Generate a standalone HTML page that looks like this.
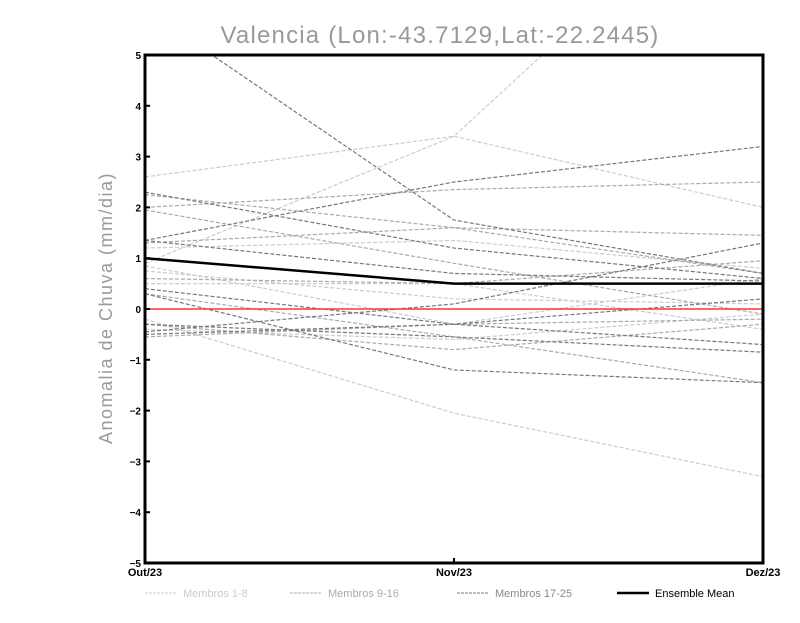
<!DOCTYPE html>
<html><head><meta charset="utf-8"><style>
body{margin:0;background:#fff;}
svg text{font-family:"Liberation Sans",sans-serif;}
</style></head><body>
<svg id="chart" width="800" height="618" xmlns="http://www.w3.org/2000/svg">
<defs><clipPath id="pc"><rect x="145" y="55" width="618" height="508"/></clipPath></defs>
<text x="440" y="43" text-anchor="middle" font-size="24" letter-spacing="1.2" fill="#999">Valencia (Lon:-43.7129,Lat:-22.2445)</text>
<text transform="translate(112,308) rotate(-90)" text-anchor="middle" font-size="18" letter-spacing="1.5" fill="#999">Anomalia de Chuva (mm/dia)</text>
<g id="series" clip-path="url(#pc)"></g>
<g id="axes"></g>
<g id="legend" font-size="11">
<line x1="145" y1="593" x2="177" y2="593" stroke="#ccc" stroke-dasharray="3,1"/>
<text x="183" y="597" fill="#ccc">Membros 1-8</text>
<line x1="290" y1="593" x2="322" y2="593" stroke="#aaa" stroke-dasharray="3,1"/>
<text x="328" y="597" fill="#aaa">Membros 9-16</text>
<line x1="457" y1="593" x2="489" y2="593" stroke="#777" stroke-dasharray="3,1"/>
<text x="495" y="597" fill="#888">Membros 17-25</text>
<line x1="617" y1="593" x2="649" y2="593" stroke="#000" stroke-width="2.5"/>
<text x="655" y="597" fill="#000">Ensemble Mean</text>
</g>
</svg>
<script>
const categories = ["Out/23","Nov/23","Dez/23"];
const yTicks = [-5,-4,-3,-2,-1,0,1,2,3,4,5];
const light = [[2.6,3.4,2.0],[0.9,3.4,9.0],[0.85,-0.3,0.6],[1.2,1.35,0.8],[-0.2,-2.05,-3.3],[0.75,0.2,0.1],[0.5,0.5,-0.4],[-0.4,-0.6,-0.1]];
const medium = [[2.0,2.35,2.5],[2.25,1.6,0.7],[1.95,0.9,-0.1],[1.3,1.6,1.45],[0.6,0.5,0.95],[0.3,-0.55,-1.45],[-0.3,-0.8,-0.3],[-0.55,-0.3,-0.2]];
const dark = [[5.9,1.75,0.7],[2.3,1.2,0.6],[1.35,2.5,3.2],[1.35,0.7,0.55],[0.3,-1.2,-1.45],[0.4,-0.3,-0.7],[-0.45,0.1,1.3],[-0.3,-0.55,-0.85],[-0.5,-0.3,0.2]];
const meanVals = [1.0,0.5,0.5];

const NS="http://www.w3.org/2000/svg";
const X0=145,X1=763,Y0=55,Y1=563;
function xs(i){return X0+i*(X1-X0)/(categories.length-1);}
function ys(v){return Y1-(v+5)*(Y1-Y0)/10;}
function mk(t,p,a){const e=document.createElementNS(NS,t);for(const k in a)e.setAttribute(k,a[k]);p.appendChild(e);return e;}
const S=document.getElementById('series'), A=document.getElementById('axes');
function pts(arr){return arr.map((v,i)=>xs(i)+','+ys(v)).join(' ');}
function draw(group,color,name){group.forEach((s,k)=>{
 const l=mk('polyline',S,{points:pts(s),fill:'none',stroke:color,'stroke-width':1.2,'stroke-dasharray':'4,2'});
 
 
});}
draw(light,'#ccc','members-1-8');
draw(medium,'#aaa','members-9-16');
draw(dark,'#777','members-17-25');
const z=mk('line',S,{x1:X0,x2:X1,y1:ys(0),y2:ys(0),stroke:'#f33','stroke-width':1.5});


const m=mk('polyline',S,{points:pts(meanVals),fill:'none',stroke:'#000','stroke-width':2.5});


const fr=mk('rect',A,{x:X0,y:Y0,width:X1-X0,height:Y1-Y0,fill:'none',stroke:'#000','stroke-width':3});


yTicks.forEach(v=>{
 mk('line',A,{x1:X0,x2:X0+5,y1:ys(v),y2:ys(v),stroke:'#000','stroke-width':2});
 const t=mk('text',A,{x:X0-4,y:ys(v)+4,'text-anchor':'end','font-size':10,'font-weight':'bold'});
 t.textContent=String(v).replace('-','\u2212');
 
 
});
categories.forEach((c,i)=>{
 mk('line',A,{x1:xs(i),x2:xs(i),y1:Y1,y2:Y1-5,stroke:'#000','stroke-width':2});
 const t=mk('text',A,{x:xs(i),y:Y1+13,'text-anchor':'middle','font-size':11,'font-weight':'bold'});
 t.textContent=c;
 
 
});
</script>
</body></html>
